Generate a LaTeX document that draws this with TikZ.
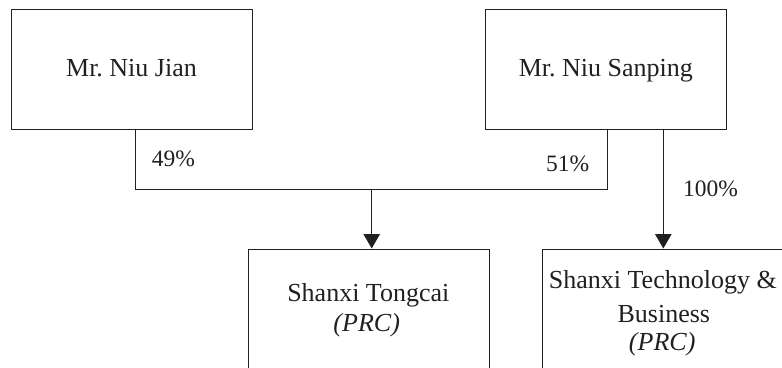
\documentclass[tikz,border=0pt]{standalone}
\usepackage{fontspec}
\setmainfont{Liberation Serif}
\usetikzlibrary{arrows.meta}
\definecolor{ink}{HTML}{231F20}
\begin{document}
\begin{tikzpicture}[x=1pt,y=-1pt,
  box/.style={draw=ink,line width=1pt,inner sep=0pt},
  big/.style={font=\fontsize{26}{30}\selectfont,text=ink,inner sep=0pt,anchor=base},
  pct/.style={font=\fontsize{23.5}{28}\selectfont,text=ink,inner sep=0pt,anchor=base},
  conn/.style={draw=ink,line width=1pt},
  arr/.style={conn,-{Triangle[width=16.5pt,length=14.5pt]}}]
\useasboundingbox (0,0) rectangle (782,367);
\clip (0,0) rectangle (782,367);
% boxes
\node[box,minimum width=241pt,minimum height=120pt] (a) at (131.5,69) {};
\node[box,minimum width=241pt,minimum height=120pt] (b) at (606.3,69) {};
\node[box,minimum width=241pt,minimum height=160pt] (c) at (368.8,329) {};
\node[box,minimum width=260pt,minimum height=160pt] (d) at (672.7,329) {};
% texts
\node[big] (ta) at (131.5,76.7) {Mr.\ Niu Jian};
\node[big] (tb) at (605.8,76.7) {Mr.\ Niu Sanping};
\node[big] (tc1) at (368.3,301.7) {Shanxi Tongcai};
\node[big] (tc2) at (366.7,331.5) {\itshape (PRC)};
\node[big] (td1) at (662.8,288.5) {Shanxi Technology \&};
\node[big] (td2) at (663.8,322.5) {Business};
\node[big] (td3) at (662.2,350) {\itshape (PRC)};
% percentages
\node[pct] (p49) at (173.5,166.7) {49\%};
\node[pct] (p51) at (567.7,171.7) {51\%};
\node[pct] (p100) at (710.5,196.7) {100\%};
% connectors
\coordinate (j) at (135,189);
\coordinate (k) at (607,189);
\coordinate (m) at (371.7,189);
\coordinate (n) at (663.3,189);
\draw[conn] (a.south -| j) -- (j) -- (k) -- (b.south -| k);
\draw[arr] (m) -- (c.north -| m);
\draw[arr] (b.south -| n) -- (d.north -| n);
\end{tikzpicture}
\end{document}
